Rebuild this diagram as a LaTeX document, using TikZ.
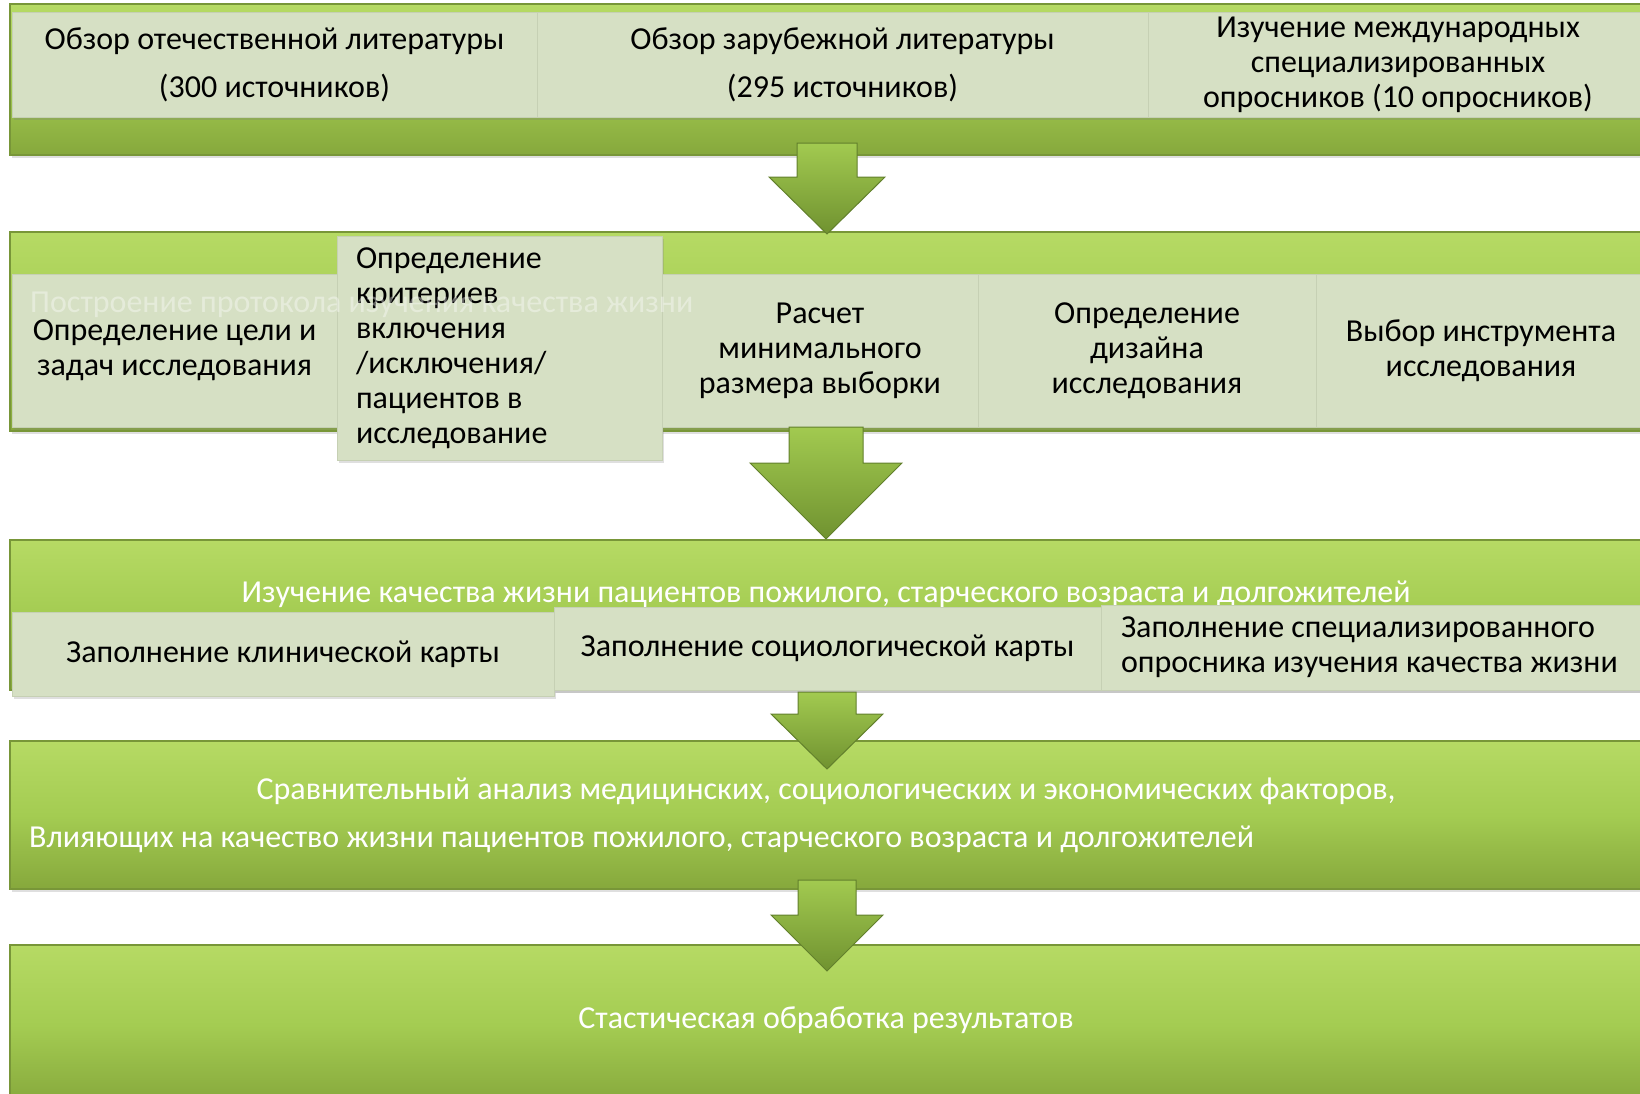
\documentclass[tikz,border=0pt]{standalone}
\usepackage{fontspec}
\setmainfont{Carlito}
\usepackage{xcolor}
\usepackage{tikz}
\usetikzlibrary{shapes,arrows,positioning,shadows}

\definecolor{barlight}{RGB}{182,218,100}
\definecolor{barmid}{RGB}{164,204,82}
\definecolor{bardark}{RGB}{134,168,60}
\definecolor{barline}{RGB}{120,150,56}
\definecolor{boxfill}{RGB}{214,224,196}
\definecolor{boxline}{RGB}{198,208,180}
\definecolor{arrowtop}{RGB}{162,202,80}
\definecolor{arrowbot}{RGB}{112,146,48}
\definecolor{arrowline}{RGB}{98,128,44}

\begin{document}
\begin{tikzpicture}[x=1pt, y=-1pt,
          bar/.style={draw=barline, line width=1.2pt, top color=barlight, bottom color=bardark, middle color=barmid,
                      anchor=north west, inner sep=0pt, outer sep=0pt,
                      drop shadow={shadow xshift=2pt, shadow yshift=-3pt, opacity=0.25}},
          cell/.style={draw=boxline, fill=boxfill, inner sep=0pt, outer sep=0pt, align=center,
                       font=\fontsize{32}{35}\selectfont,
                       drop shadow={shadow xshift=2pt, shadow yshift=-3pt, opacity=0.25}},
          bartext/.style={text=white, font=\fontsize{32}{35}\selectfont, inner sep=0pt},
          bigarrow/.style={draw=arrowline, line width=1pt, top color=arrowtop, bottom color=arrowbot},
        ]
            \useasboundingbox (0,0) rectangle (1640,1093);

            % green bands
            \draw node[bar, minimum width=1640, minimum height=151] (band1) at (10,4) {};
            \draw node[bar, minimum width=1640, minimum height=199] (band2) at (10,232) {};
            \draw node[bar, minimum width=1640, minimum height=150] (band3) at (10,540) {};
            \draw node[bar, minimum width=1640, minimum height=148] (band4) at (10,741) {};
            \draw node[bar, minimum width=1640, minimum height=160] (band5) at (10,945) {};

            % first row
            \draw node[cell, anchor=north west, minimum width=525, minimum height=105,
                font=\fontsize{32}{48}\selectfont] (native) at (12,12)
                {Обзор отечественной литературы\\(300 источников)};
            \draw node[cell, minimum width=611, minimum height=105,
                font=\fontsize{32}{48}\selectfont, right=0pt of native] (foreign)
                {Обзор зарубежной литературы\\(295 источников)};
            \draw node[cell, minimum width=500, minimum height=105, right=0pt of foreign] (surveys)
                {Изучение международных\\специализированных\\опросников (10 опросников)};

            % second row
            \draw node[cell, anchor=north west, minimum width=325, minimum height=153] (goals) at (12,274)
                {Определение цели и\\задач исследования};
            \draw node[cell, text width=287, inner xsep=19, minimum height=224, align=flush left,
                right=0pt of goals, yshift=2.5pt] (criteria)
                {Определение\\критериев\\включения\\/исключения/\\пациентов в\\исследование};
            \draw node[cell, minimum width=316, minimum height=153, right=0pt of goals, xshift=325pt] (sample)
                {Расчет\\минимального\\размера выборки};
            \draw node[cell, minimum width=338, minimum height=153, right=0pt of sample] (design)
                {Определение\\дизайна\\исследования};
            \draw node[cell, minimum width=330, minimum height=153, right=0pt of design] (tool)
                {Выбор инструмента\\исследования};
            \node[text=white, text opacity=0.38, font=\fontsize{32}{35}\selectfont, anchor=west, inner sep=0pt]
                (protocol) at (30,305) {Построение протокола изучения качества жизни};

            % third row
            \node[bartext] (quality) at (826,594)
                {Изучение качества жизни пациентов пожилого, старческого возраста и долгожителей};
            \draw node[cell, anchor=north west, minimum width=542, minimum height=84] (clinical) at (12,612)
                {Заполнение клинической карты};
            \draw node[cell, minimum width=547, minimum height=83, right=0pt of clinical, yshift=5.5pt] (social)
                {Заполнение социологической карты};
            \draw node[cell, text width=505, inner xsep=20, minimum height=85, align=flush left,
                right=0pt of social, yshift=1pt] (questionnaire)
                {Заполнение специализированного\\опросника изучения качества жизни};

            % fourth and fifth rows
            \node[bartext] (compare) at (826,791)
                {Сравнительный анализ медицинских, социологических и экономических факторов,};
            \node[bartext, anchor=west] (compare2) at (29,839)
                {Влияющих на качество жизни пациентов пожилого, старческого возраста и долгожителей};
            \node[bartext] (stats) at (826,1020) {Стастическая обработка результатов};

            % arrows between bands
            \coordinate (from1) at (827,143);
            \coordinate (from2) at (826,427);
            \coordinate (from3) at (827,692);
            \coordinate (from4) at (827,880);
            \draw[bigarrow] (from1) ++(-30,0) -- ++(0,34) -- ++(-28,0) -- ++(58,57) -- ++(58,-57)
                -- ++(-28,0) -- ++(0,-34) -- cycle;
            \draw[bigarrow] (from2) ++(-37,0) -- ++(0,36) -- ++(-39,0) -- ++(76,76) -- ++(76,-76)
                -- ++(-39,0) -- ++(0,-36) -- cycle;
            \draw[bigarrow] (from3) ++(-29,0) -- ++(0,22) -- ++(-27,0) -- ++(56,55) -- ++(56,-55)
                -- ++(-27,0) -- ++(0,-22) -- cycle;
            \draw[bigarrow] (from4) ++(-29,0) -- ++(0,35) -- ++(-27,0) -- ++(56,56) -- ++(56,-56)
                -- ++(-27,0) -- ++(0,-35) -- cycle;

		 \end{tikzpicture}
\end{document}
